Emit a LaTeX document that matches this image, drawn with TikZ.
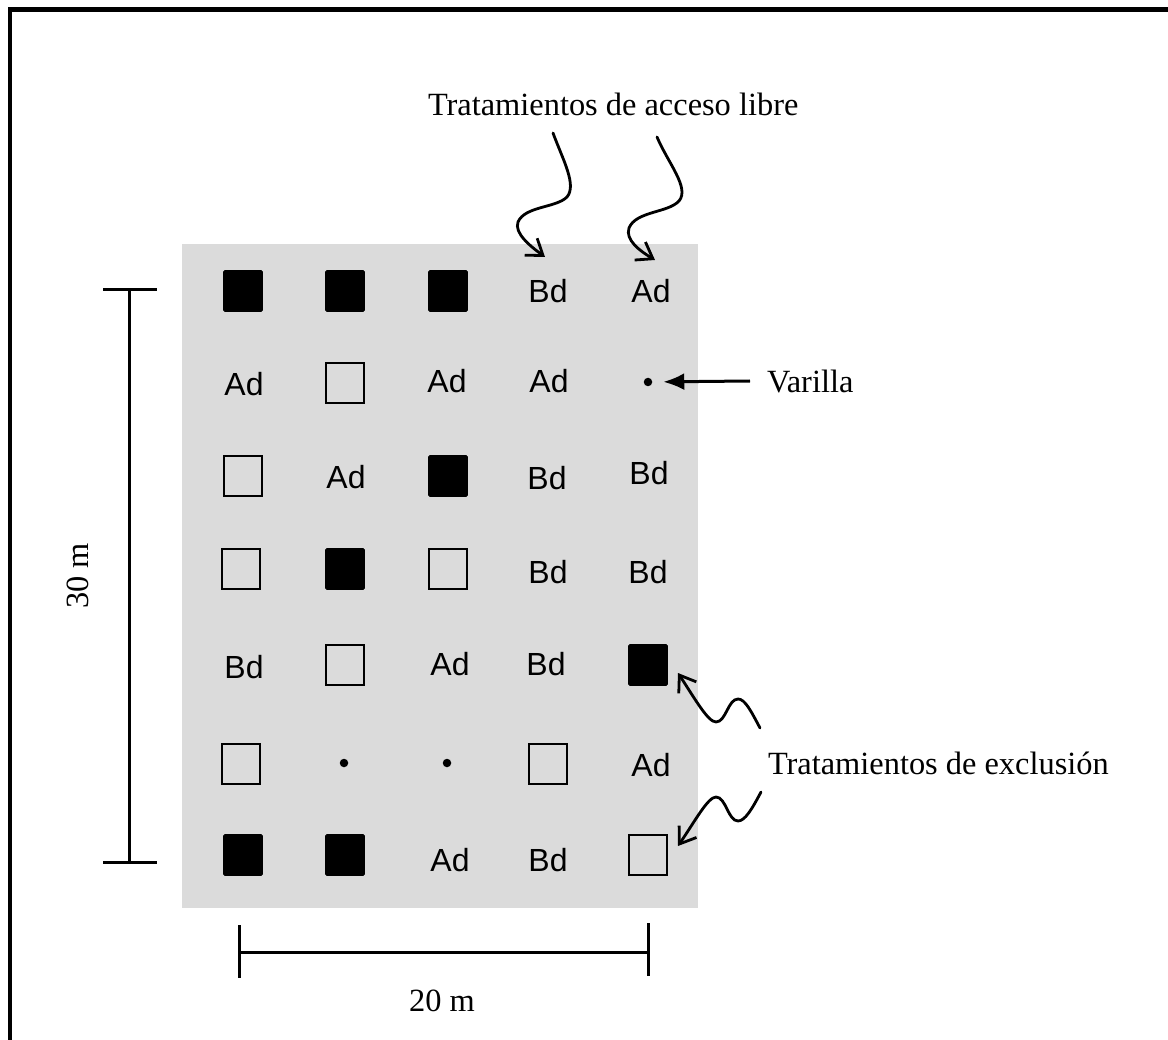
\documentclass[tikz,border=0pt]{standalone}
\usepackage{fontspec}
\setmainfont{Liberation Serif}
\newfontfamily\cellfont{Liberation Sans}
\usetikzlibrary{arrows.meta}

\begin{document}
\begin{tikzpicture}[x=1pt,y=-1pt,
  every node/.style={inner sep=0pt,outer sep=0pt},
  plotarea/.style={fill=black!14,draw=none},
  closedq/.style={draw=black,fill=black,line width=0.8pt,rounded corners=1.5pt,
                  minimum width=39pt,minimum height=41pt},
  openq/.style={draw=black,line width=2.2pt,minimum width=38pt,minimum height=40pt},
  rod/.style={circle,fill=black,minimum size=8.5pt},
  cell/.style={font=\cellfont\fontsize{32}{36}\selectfont},
  lbl/.style={font=\fontsize{32.4}{38}\selectfont},
  bar/.style={line width=3pt},
  wave/.style={line width=2.8pt,line cap=round,
               -{Straight Barb[length=15pt,width=21pt,line width=2.8pt]}}
]
\useasboundingbox (0,0) rectangle (1168,1040);

% outer frame (top and left sides)
\draw[line width=4.5pt] (10,1040) -- (10,9.5) -- (1168,9.5);

% plot area
\fill[plotarea] (182,244) rectangle (698,908);

% row 1
\node[closedq] (r1c1) at (243,291) {};
\node[closedq] (r1c2) at (345,291) {};
\node[closedq] (r1c3) at (448,291) {};
\node[cell]    (r1c4) at (548,291) {Bd};
\node[cell]    (r1c5) at (651,291) {Ad};
% row 2
\node[cell]    (r2c1) at (244,384) {Ad};
\node[openq]   (r2c2) at (345,383) {};
\node[cell]    (r2c3) at (447,381) {Ad};
\node[cell]    (r2c4) at (549,381) {Ad};
\node[rod]     (r2c5) at (648,382) {};
% row 3
\node[openq]   (r3c1) at (243,476) {};
\node[cell]    (r3c2) at (346,477) {Ad};
\node[closedq] (r3c3) at (448,476) {};
\node[cell]    (r3c4) at (547,478) {Bd};
\node[cell]    (r3c5) at (649,473) {Bd};
% row 4
\node[openq]   (r4c1) at (241,569) {};
\node[closedq] (r4c2) at (345,569) {};
\node[openq]   (r4c3) at (448,569) {};
\node[cell]    (r4c4) at (548,572) {Bd};
\node[cell]    (r4c5) at (648,572) {Bd};
% row 5
\node[cell]    (r5c1) at (244,667) {Bd};
\node[openq]   (r5c2) at (345,665) {};
\node[cell]    (r5c3) at (450,664) {Ad};
\node[cell]    (r5c4) at (546,664) {Bd};
\node[closedq] (r5c5) at (648,665) {};
% row 6
\node[openq]   (r6c1) at (241,764) {};
\node[rod]     (r6c2) at (344,763) {};
\node[rod]     (r6c3) at (447,763) {};
\node[openq]   (r6c4) at (548,764) {};
\node[cell]    (r6c5) at (651,765) {Ad};
% row 7
\node[closedq] (r7c1) at (243,855) {};
\node[closedq] (r7c2) at (345,855) {};
\node[cell]    (r7c3) at (450,860) {Ad};
\node[cell]    (r7c4) at (548,860) {Bd};
\node[openq]   (r7c5) at (648,855) {};

% scale bars
\coordinate (vtop) at (129,290);
\coordinate (vbot) at (129,862);
\draw[bar] (vtop) -- (vbot);
\draw[bar] ([xshift=-26pt]vtop) -- ([xshift=28pt]vtop);
\draw[bar] ([xshift=-26pt]vbot) -- ([xshift=28pt]vbot);
\node[lbl,rotate=90] (h30) at (78,576) {30 m};

\coordinate (hleft) at (239,952);
\coordinate (hright) at (648,952);
\draw[bar] (hleft) -- (hright);
\draw[bar] ([yshift=27pt]hleft) -- ([yshift=-26pt]hleft);
\draw[bar] ([yshift=29pt]hright) -- ([yshift=-24pt]hright);
\node[lbl] (w20) at (442,1001) {20 m};

% labels
\node[lbl,anchor=base west] (libre) at (428,116) {Tratamientos de acceso libre};
\node[lbl,anchor=base west] (varilla) at (767,393) {Varilla};
\node[lbl,anchor=base west] (exclu) at (768,774) {Tratamientos de exclusión};

% rod pointer
\coordinate (vst) at (750,381);
\draw[line width=3pt,-{Latex[length=21pt,width=17pt]},shorten >=11pt] (vst) -- (r2c5);

% free-access pointers
\coordinate (la) at (553,133);
\coordinate (lb) at (545,257);
\coordinate (ra) at (657,137);
\coordinate (rb) at (655,260);
\draw[wave] (la) .. controls (563,160) and (577,185) .. (567,197)
             .. controls (556,208) and (525,206) .. (518,222)
             .. controls (514,233) and (530,246) .. (lb);
\draw[wave] (ra) .. controls (668,163) and (690,188) .. (679,201)
             .. controls (668,213) and (636,211) .. (629,228)
             .. controls (625,240) and (640,251) .. (rb);

% exclusion pointers
\coordinate (ea) at (760,728);
\coordinate (eb) at (678,673);
\coordinate (fa) at (761,792);
\coordinate (fb) at (678,846);
\draw[wave] (ea) .. controls (751,711) and (745,699) .. (738,699)
             .. controls (728,699) and (726,722) .. (716,722)
             .. controls (708,722) and (695,699) .. (eb);
\draw[wave] (fa) .. controls (752,809) and (745,821) .. (738,821)
             .. controls (728,821) and (726,797) .. (716,797)
             .. controls (708,797) and (695,821) .. (fb);
\end{tikzpicture}
\end{document}
